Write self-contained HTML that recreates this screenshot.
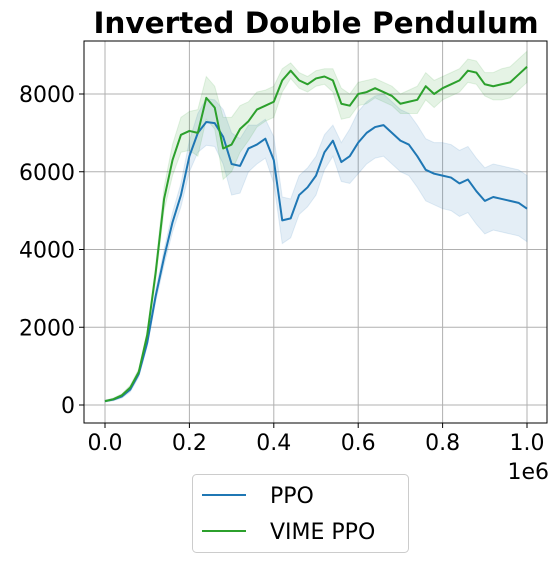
<!DOCTYPE html>
<html><head><meta charset="utf-8"><style>
body{margin:0;background:#fff;font-family:"Liberation Sans","DejaVu Sans",sans-serif}
</style></head><body>
<svg id="chart" width="558" height="566" xmlns="http://www.w3.org/2000/svg" font-family="'DejaVu Sans','Liberation Sans',sans-serif">
<text x="316" y="33" text-anchor="middle" font-size="29.5" font-weight="bold">Inverted Double Pendulum</text>
<g id="grid"></g><g id="bands"></g><g id="lines"></g><g id="axes"></g>
<text x="549" y="479" text-anchor="end" font-size="22">1e6</text>
<g>
<rect x="192.5" y="474.5" width="216" height="78" rx="4" fill="#fff" stroke="#ccc"/>
<g><line x1="202" y1="495" x2="246" y2="495" stroke="#1f77b4" stroke-width="2"/><text x="270" y="503" font-size="22">PPO</text></g>
<g><line x1="202" y1="531" x2="246" y2="531" stroke="#2ca02c" stroke-width="2"/><text x="270" y="539" font-size="22">VIME PPO</text></g>
</g>
</svg>
<script>
const steps=[0,.02,.04,.06,.08,.10,.12,.14,.16,.18,.20,.22,.24,.26,.28,.30,.32,.34,.36,.38,.40,.42,.44,.46,.48,.50,.52,.54,.56,.58,.60,.62,.64,.66,.68,.70,.72,.74,.76,.78,.80,.82,.84,.86,.88,.90,.92,.94,.96,.98,1.0];
const ppo=[100,140,220,400,800,1600,2800,3800,4700,5400,6400,7000,7280,7250,6900,6200,6150,6600,6700,6850,6300,4750,4800,5400,5600,5900,6500,6800,6250,6400,6750,7000,7150,7200,7000,6800,6700,6400,6050,5950,5900,5850,5700,5800,5500,5250,5350,5300,5250,5200,5050];
const ppoSpread=[20,30,40,60,80,100,150,200,250,300,400,500,600,600,700,800,700,600,500,500,600,600,500,500,500,500,450,400,500,700,800,800,800,800,800,800,800,800,800,800,850,850,850,850,850,850,850,850,850,850,850];
const vime=[100,150,250,450,850,1800,3400,5300,6300,6950,7050,7000,7900,7650,6600,6700,7100,7300,7600,7700,7800,8350,8600,8350,8250,8400,8450,8350,7750,7700,8000,8050,8150,8050,7950,7750,7800,7850,8200,8000,8150,8250,8350,8600,8550,8250,8200,8250,8300,8500,8700];
const vimeSpread=[20,30,40,60,80,100,200,300,400,450,500,600,550,550,800,700,600,500,450,400,400,300,200,200,200,200,200,300,400,300,300,300,250,250,250,250,300,350,350,350,300,300,300,300,300,300,350,400,400,400,400];
const xTicks=[0,0.2,0.4,0.6,0.8,1.0];
const xTickLabels=["0.0","0.2","0.4","0.6","0.8","1.0"];
const yTicks=[0,2000,4000,6000,8000];
const yTickLabels=["0","2000","4000","6000","8000"];
const L=84,R=547,T=41,B=423;
const xs=v=>105+v*422;
const ys=v=>405-v*0.038875;
const NS="http://www.w3.org/2000/svg";
function mk(tag,attrs,parent){const e=document.createElementNS(NS,tag);for(const k in attrs)e.setAttribute(k,attrs[k]);document.getElementById(parent).appendChild(e);return e;}
xTicks.forEach((t,i)=>{
 const g=mk('line',{x1:xs(t),x2:xs(t),y1:T,y2:B,stroke:'#b0b0b0','stroke-width':1},'grid');
 
 
 mk('line',{x1:xs(t),x2:xs(t),y1:B,y2:B+5,stroke:'#000'},'axes');
 const tx=mk('text',{x:xs(t),y:B+27,'text-anchor':'middle','font-size':22},'axes');
 tx.textContent=xTickLabels[i];
 
 
});
yTicks.forEach((t,i)=>{
 const g=mk('line',{x1:L,x2:R,y1:ys(t),y2:ys(t),stroke:'#b0b0b0','stroke-width':1},'grid');
 
 
 mk('line',{x1:L-5,x2:L,y1:ys(t),y2:ys(t),stroke:'#000'},'axes');
 const tx=mk('text',{x:L-9,y:ys(t)+8,'text-anchor':'end','font-size':22},'axes');
 tx.textContent=yTickLabels[i];
 
 
});
const frame=mk('rect',{x:L,y:T,width:R-L,height:B-T,fill:'none',stroke:'#000','stroke-width':1},'axes');


function band(vals,sp,color,name){
 let up=steps.map((s,i)=>xs(s)+','+ys(vals[i]+sp[i]));
 let lo=steps.map((s,i)=>xs(s)+','+ys(vals[i]-sp[i])).reverse();
 const p=mk('polygon',{points:up.concat(lo).join(' '),fill:color,'fill-opacity':0.12,stroke:color,'stroke-opacity':0.12},'bands');
 
 
}
function line(vals,color,name){
 const p=mk('polyline',{points:steps.map((s,i)=>xs(s)+','+ys(vals[i])).join(' '),fill:'none',stroke:color,'stroke-width':2,'stroke-linejoin':'round'},'lines');
 
 
}
band(ppo,ppoSpread,'#1f77b4','ppo-band');
band(vime,vimeSpread,'#2ca02c','vime-ppo-band');
line(ppo,'#1f77b4','ppo-line');
line(vime,'#2ca02c','vime-ppo-line');
</script>
</body></html>
